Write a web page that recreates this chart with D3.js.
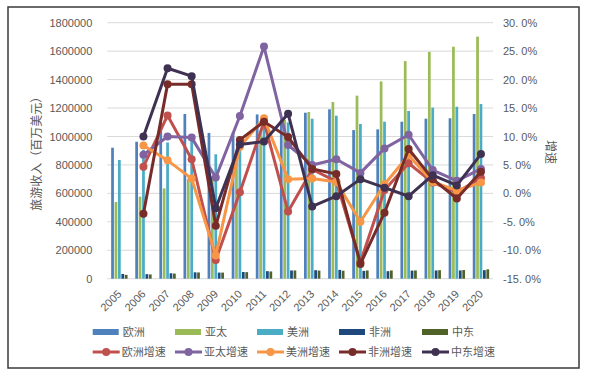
<!DOCTYPE html>
<html>
<head>
<meta charset="utf-8">
<script src="https://cdn.jsdelivr.net/npm/d3@7"></script>
<style>
  body { margin: 0; background: #fff; }
  text { font-family: "Liberation Sans", "Noto Sans CJK SC", sans-serif; }
  .cjk { font-family: "Noto Sans CJK SC", sans-serif; }
</style>
</head>
<body>
<div id="container"></div>
<script>
var width = 589,
    height = 374;

// data (收入: 百万美元, 增速: 小数)
var years = ["2005","2006","2007","2008","2009","2010","2011","2012",
             "2013","2014","2015","2016","2017","2018","2019","2020"];

var regions = ["欧洲", "亚太", "美洲", "非洲", "中东"];
var growth_names = ["欧洲增速", "亚太增速", "美洲增速", "非洲增速", "中东增速"];

var europe   = [921000, 963000, 1095000, 1158000, 1025000, 1028000, 1155000, 1118000,
                1167000, 1191000, 1045000, 1050000, 1104000, 1125000, 1128000, 1158000];
var asia     = [539000, 577000, 635000, 700000, 721000, 819000, 1030000, 1115000,
                1172000, 1242000, 1287000, 1387000, 1530000, 1595000, 1631000, 1702000];
var america  = [835000, 905000, 958000, 982000, 875000, 947000, 1072000, 1099000,
                1125000, 1146000, 1088000, 1104000, 1179000, 1203000, 1209000, 1228000];
var africa   = [33000, 32000, 38000, 45000, 43000, 47000, 53000, 58000,
                60000, 62000, 55000, 53000, 57000, 58000, 58000, 60000];
var mideast  = [27000, 30000, 36000, 44000, 43000, 46000, 51000, 58000,
                57000, 56000, 58000, 58000, 58000, 60000, 61000, 66000];

var europe_g  = [null, 0.047, 0.137, 0.060, -0.117, 0.002, 0.126, -0.032,
                 0.042, 0.021, -0.121, 0.006, 0.053, 0.019, 0.002, 0.027];
var asia_g    = [null, 0.068, 0.100, 0.098, 0.028, 0.136, 0.258, 0.085,
                 0.050, 0.060, 0.036, 0.079, 0.103, 0.041, 0.022, 0.043];
var america_g = [null, 0.084, 0.058, 0.026, -0.109, 0.082, 0.132, 0.025,
                 0.026, 0.020, -0.050, 0.016, 0.067, 0.020, 0.005, 0.019];
var africa_g  = [null, -0.036, 0.192, 0.192, -0.057, 0.094, 0.126, 0.099,
                 0.043, 0.034, -0.124, -0.034, 0.078, 0.025, -0.009, 0.038];
var mideast_g = [null, 0.100, 0.220, 0.206, -0.026, 0.086, 0.091, 0.140,
                 -0.023, -0.005, 0.025, 0.010, -0.005, 0.032, 0.014, 0.069];

var left_ticks = [0, 200000, 400000, 600000, 800000, 1000000, 1200000, 1400000, 1600000, 1800000];
var right_ticks = [-0.15, -0.10, -0.05, 0, 0.05, 0.10, 0.15, 0.20, 0.25, 0.30];

var bar_colors = ["#4F81BD", "#9BBB59", "#4BACC6", "#1F497D", "#4F6228"];
var line_colors = ["#C0504D", "#8064A2", "#F79646", "#772C2A", "#3F3151"];

var bar_series = [europe, asia, america, africa, mideast];
var line_series = [europe_g, asia_g, america_g, africa_g, mideast_g];

var plot = {left: 107.3, right: 493, top: 22.7, bottom: 278.7};

var svg = d3.select("#container")
            .append("svg")
            .attr("width", width)
            .attr("height", height);

// frame
svg.append("rect")
   .attr("x", 8).attr("y", 7)
   .attr("width", 571).attr("height", 361)
   .attr("fill", "white")
   .attr("stroke", "#3a3a3a")
   .attr("stroke-width", 1.5);

var x = d3.scaleBand()
          .domain(years)
          .range([plot.left, plot.right])
          .paddingInner(0.32)
          .paddingOuter(0.16);

var xs = d3.scaleBand()
           .domain(regions)
           .range([0, x.bandwidth()])
           .paddingInner(0.2);

var y = d3.scaleLinear().domain([0, 1800000]).range([plot.bottom, plot.top]);
var y2 = d3.scaleLinear().domain([-0.15, 0.30]).range([plot.bottom, plot.top]);

// gridlines
svg.append("g").attr("class", "grid")
   .selectAll("line")
   .data(left_ticks)
   .enter().append("line")
   .attr("x1", plot.left).attr("x2", plot.right)
   .attr("y1", function(d){ return y(d); })
   .attr("y2", function(d){ return y(d); })
   .attr("stroke", "#D9D9D9")
   .attr("stroke-width", 1);

// left axis
var yAxis = d3.axisLeft(y)
              .tickValues(left_ticks)
              .tickSize(0)
              .tickPadding(15)
              .tickFormat(d3.format("d"));

var ga = svg.append("g")
   .attr("transform", "translate(" + plot.left + ",0)")
   .call(yAxis);
ga.select(".domain").remove();
ga.selectAll("text").attr("fill", "#595959").style("font-size", "11px");

// right axis
function pct(d){
  return (d * 100).toFixed(1).replace(".", ". ") + "%";
}
var y2Axis = d3.axisRight(y2)
               .tickValues(right_ticks)
               .tickSize(0)
               .tickPadding(10)
               .tickFormat(pct);

var gb = svg.append("g")
   .attr("transform", "translate(" + plot.right + ",0)")
   .call(y2Axis);
gb.select(".domain").remove();
gb.selectAll("text").attr("fill", "#595959").style("font-size", "11px");

// x axis
var xAxis = d3.axisBottom(x).tickSize(0);
var gx = svg.append("g")
   .attr("transform", "translate(0," + plot.bottom + ")")
   .call(xAxis);
gx.select(".domain").remove();
gx.selectAll("text")
  .attr("y", 0).attr("dy", 0)
  .attr("transform", "translate(3,16) rotate(-45)")
  .style("text-anchor", "end")
  .style("font-size", "11px")
  .attr("fill", "#595959");

// bars
var bars = svg.append("g").attr("id", "bars");
bar_series.forEach(function(vals, si){
  bars.selectAll(".bar" + si)
      .data(vals)
      .enter().append("rect")
      .attr("class", "bar" + si)
      .attr("x", function(d, i){ return x(years[i]) + xs(regions[si]); })
      .attr("width", xs.bandwidth())
      .attr("y", function(d){ return y(d); })
      .attr("height", function(d){ return y(0) - y(d); })
      .attr("fill", bar_colors[si]);
});

// growth lines
var line = d3.line()
             .defined(function(d){ return d.v != null; })
             .x(function(d){ return x(d.year) + x.bandwidth() / 2; })
             .y(function(d){ return y2(d.v); });

var lines = svg.append("g").attr("id", "lines");
line_series.forEach(function(vals, si){
  var pts = vals.map(function(v, i){ return {year: years[i], v: v}; });
  var g = lines.append("g");
  g.append("path")
   .datum(pts)
   .attr("d", line)
   .attr("fill", "none")
   .attr("stroke", line_colors[si])
   .attr("stroke-width", 3)
   .attr("stroke-linejoin", "round");
  g.selectAll("circle")
   .data(pts.filter(function(d){ return d.v != null; }))
   .enter().append("circle")
   .attr("cx", function(d){ return x(d.year) + x.bandwidth() / 2; })
   .attr("cy", function(d){ return y2(d.v); })
   .attr("r", 4)
   .attr("fill", line_colors[si]);
});

// axis titles
svg.append("text")
   .attr("class", "cjk")
   .attr("transform", "translate(41," + ((plot.top + plot.bottom) / 2) + ") rotate(-90)")
   .attr("text-anchor", "middle")
   .attr("fill", "#595959")
   .style("font-size", "12px")
   .text("旅游收入（百万美元）");

svg.append("text")
   .attr("class", "cjk")
   .attr("transform", "translate(546,152) rotate(90)")
   .attr("text-anchor", "middle")
   .attr("fill", "#595959")
   .style("font-size", "12px")
   .text("增速");

// legend
var legend_x = [92.7, 175, 257, 339, 422];
var lg = svg.append("g").attr("id", "legend");

regions.forEach(function(name, i){
  lg.append("rect")
    .attr("x", legend_x[i]).attr("y", 329)
    .attr("width", 26).attr("height", 6)
    .attr("fill", bar_colors[i]);
  lg.append("text")
    .attr("class", "cjk")
    .attr("x", legend_x[i] + 30).attr("y", 336)
    .attr("fill", "#595959")
    .style("font-size", "11px")
    .text(name);
});

growth_names.forEach(function(name, i){
  lg.append("line")
    .attr("x1", legend_x[i]).attr("x2", legend_x[i] + 27)
    .attr("y1", 352).attr("y2", 352)
    .attr("stroke", line_colors[i]).attr("stroke-width", 3);
  lg.append("circle")
    .attr("cx", legend_x[i] + 13.5).attr("cy", 352)
    .attr("r", 4)
    .attr("fill", line_colors[i]);
  lg.append("text")
    .attr("class", "cjk")
    .attr("x", legend_x[i] + 29).attr("y", 356)
    .attr("fill", "#595959")
    .style("font-size", "11px")
    .text(name);
});
</script>
</body>
</html>
